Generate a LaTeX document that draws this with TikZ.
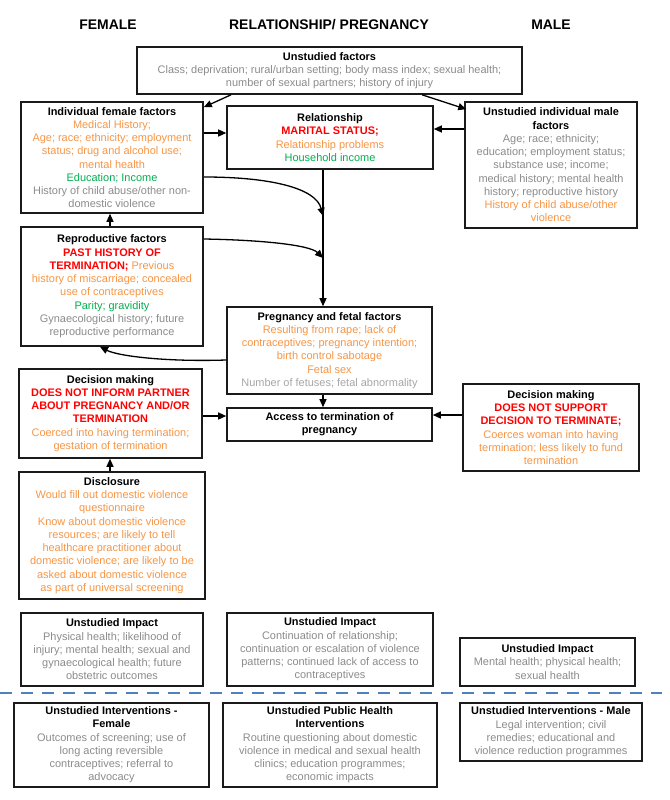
\documentclass[tikz,border=0pt]{standalone}
\usepackage{fontspec}
\setmainfont{Liberation Sans}
\usetikzlibrary{arrows.meta}
\definecolor{corange}{HTML}{F79646}
\definecolor{cred}{HTML}{FF0000}
\definecolor{cgreen}{HTML}{00B050}
\definecolor{cgrey}{HTML}{8C8C8C}
\definecolor{clgrey}{HTML}{A6A6A6}
\definecolor{cbox}{HTML}{1A1A1A}
\definecolor{cdash}{HTML}{4F81BD}
\newcommand\txo[1]{\textcolor{corange}{#1}}
\newcommand\txr[1]{\textcolor{cred}{\textbf{#1}}}
\newcommand\txg[1]{\textcolor{cgrey}{#1}}
\newcommand\txl[1]{\textcolor{clgrey}{#1}}
\newcommand\txn[1]{\textcolor{cgreen}{#1}}
\newcommand\txb[1]{\textbf{#1}}
\begin{document}
\begin{tikzpicture}[x=1bp,y=-1bp,
  box/.style={draw=cbox,line width=1.6bp,inner sep=0pt,align=center,font=\fontsize{11}{13.3}\selectfont},
  hdr/.style={font=\fontsize{14}{16}\selectfont\bfseries},
  arr/.style={line width=1.3bp,-{Triangle[length=8bp,width=7bp]}},
]
\useasboundingbox (0,0) rectangle (670,800);
\fill[white] (0,0) rectangle (670,800);

% headers
\node[hdr] (hf) at (108,25) {FEMALE};
\node[hdr] (hr) at (329,25) {RELATIONSHIP/ PREGNANCY};
\node[hdr] (hm) at (551,25) {MALE};

% boxes
\node[box,minimum width=385bp,minimum height=47bp] (uf) at (329.5,70.5)
 {\txb{Unstudied factors}\\
  \txg{Class; deprivation; rural/urban setting; body mass index; sexual health;}\\
  \txg{number of sexual partners; history of injury}};

\node[box,minimum width=182bp,minimum height=111bp] (ifem) at (112,157.5)
 {\txb{Individual female factors}\\
  \txo{Medical History;}\\
  \txo{Age; race; ethnicity; employment}\\
  \txo{status; drug and alcohol use;}\\
  \txo{mental health}\\
  \txn{Education; Income}\\
  \txg{History of child abuse/other non-}\\
  \txg{domestic violence}};

\node[box,minimum width=206bp,minimum height=63bp] (rel) at (330,137.5)
 {\txb{Relationship}\\
  \txr{MARITAL STATUS;}\\
  \txo{Relationship problems}\\
  \txn{Household income}};

\node[box,minimum width=172bp,minimum height=126bp] (male) at (551,165)
 {\txb{Unstudied individual male}\\
  \txb{factors}\\
  \txg{Age; race; ethnicity;}\\
  \txg{education; employment status;}\\
  \txg{substance use; income;}\\
  \txg{medical history; mental health}\\
  \txg{history; reproductive history}\\
  \txo{History of child abuse/other}\\
  \txo{violence}};

\node[box,minimum width=182bp,minimum height=119bp] (repro) at (112,286.5)
 {\txb{Reproductive factors}\\
  \txr{PAST HISTORY OF}\\
  \txr{TERMINATION;}\ \txo{Previous}\\
  \txo{history of miscarriage; concealed}\\
  \txo{use of contraceptives}\\
  \txn{Parity; gravidity}\\
  \txg{Gynaecological history; future}\\
  \txg{reproductive performance}};

\node[box,minimum width=205bp,minimum height=87bp] (preg) at (329.5,350.5)
 {\txb{Pregnancy and fetal factors}\\
  \txo{Resulting from rape; lack of}\\
  \txo{contraceptives; pregnancy intention;}\\
  \txo{birth control sabotage}\\
  \txo{Fetal sex}\\
  \txl{Number of fetuses; fetal abnormality}};

\node[box,minimum width=205bp,minimum height=33bp] (acc) at (329.5,424.5)
 {\txb{Access to termination of}\\
  \txb{pregnancy}};

\node[box,minimum width=183bp,minimum height=89bp] (decf) at (110.5,413.5)
 {\txb{Decision making}\\
  \txr{DOES NOT INFORM PARTNER}\\
  \txr{ABOUT PREGNANCY AND/OR}\\
  \txr{TERMINATION}\\
  \txo{Coerced into having termination;}\\
  \txo{gestation of termination}};

\node[box,minimum width=176bp,minimum height=87bp] (decm) at (551,427.5)
 {\txb{Decision making}\\
  \txr{DOES NOT SUPPORT}\\
  \txr{DECISION TO TERMINATE;}\\
  \txo{Coerces woman into having}\\
  \txo{termination; less likely to fund}\\
  \txo{termination}};

\node[box,minimum width=186bp,minimum height=127bp] (disc) at (112,535.5)
 {\txb{Disclosure}\\
  \txo{Would fill out domestic violence}\\
  \txo{questionnaire}\\
  \txo{Know about domestic violence}\\
  \txo{resources; are likely to tell}\\
  \txo{healthcare practitioner about}\\
  \txo{domestic violence; are likely to be}\\
  \txo{asked about domestic violence}\\
  \txo{as part of universal screening}};

\node[box,minimum width=182bp,minimum height=73bp] (impf) at (112,649.5)
 {\txb{Unstudied Impact}\\
  \txg{Physical health; likelihood of}\\
  \txg{injury; mental health; sexual and}\\
  \txg{gynaecological health; future}\\
  \txg{obstetric outcomes}};

\node[box,minimum width=206bp,minimum height=73bp] (impm) at (330,649.5)
 {\txb{Unstudied Impact}\\
  \txg{Continuation of relationship;}\\
  \txg{continuation or escalation of violence}\\
  \txg{patterns; continued lack of access to}\\
  \txg{contraceptives}};

\node[box,minimum width=175bp,minimum height=48bp] (impr) at (547.5,662)
 {\txb{Unstudied Impact}\\
  \txg{Mental health; physical health;}\\
  \txg{sexual health}};

\node[box,minimum width=195bp,minimum height=84bp] (intf) at (111.5,745)
 {\txb{Unstudied Interventions -}\\
  \txb{Female}\\
  \txg{Outcomes of screening; use of}\\
  \txg{long acting reversible}\\
  \txg{contraceptives; referral to}\\
  \txg{advocacy}};

\node[box,minimum width=214bp,minimum height=84bp] (intm) at (330,745)
 {\txb{Unstudied Public Health}\\
  \txb{Interventions}\\
  \txg{Routine questioning about domestic}\\
  \txg{violence in medical and sexual health}\\
  \txg{clinics; education programmes;}\\
  \txg{economic impacts}};

\node[box,minimum width=182bp,minimum height=58bp] (intr) at (551,732)
 {\txb{Unstudied Interventions - Male}\\
  \txg{Legal intervention; civil}\\
  \txg{remedies; educational and}\\
  \txg{violence reduction programmes}};

% helper coordinates
\coordinate (p1) at (231,0);
\coordinate (p2) at (422,0);
\coordinate (ya) at (0,133);
\coordinate (yb) at (0,129);
\coordinate (xv) at (323,0);
\coordinate (xl) at (110,0);
\coordinate (k6) at (0,177);
\coordinate (m6) at (323,216);
\coordinate (k7) at (0,239);
\coordinate (m7) at (323,258);
\coordinate (k8) at (0,360);
\coordinate (x8) at (100,0);
\coordinate (yc) at (0,416);
\coordinate (yd) at (0,415);
\coordinate (dl) at (0,693);
\coordinate (dr) at (662,693);

% connectors
\draw[arr] (uf.south -| p1) -- ([yshift=-6bp]ifem.north east);
\draw[arr] (uf.south -| p2) -- ([yshift=-8bp,xshift=2bp]male.north west);
\draw[arr] (ifem.east |- ya) -- (rel.west |- ya);
\draw[arr] (male.west |- yb) -- (rel.east |- yb);
\draw[arr] (rel.south -| xv) -- (preg.north -| xv);
\draw[arr] (ifem.east |- k6) .. controls (270,177) and (316,188) .. (m6);
\draw[arr] (repro.east |- k7) .. controls (262,240) and (310,245) .. (m7);
\draw[arr] (preg.west |- k8) .. controls (165,362) and (118,356) .. (repro.south -| x8);
\draw[arr] (repro.north -| xl) -- (ifem.south -| xl);
\draw[arr] (preg.south -| xv) -- (acc.north -| xv);
\draw[arr] (decf.east |- yc) -- (acc.west |- yc);
\draw[arr] (decm.west |- yd) -- (acc.east |- yd);
\draw[arr] (disc.north -| xl) -- (decf.south -| xl);

% dashed separator
\draw[cdash,line width=2.5bp,dash pattern=on 12bp off 9bp] (dl) -- (dr);
\end{tikzpicture}
\end{document}
